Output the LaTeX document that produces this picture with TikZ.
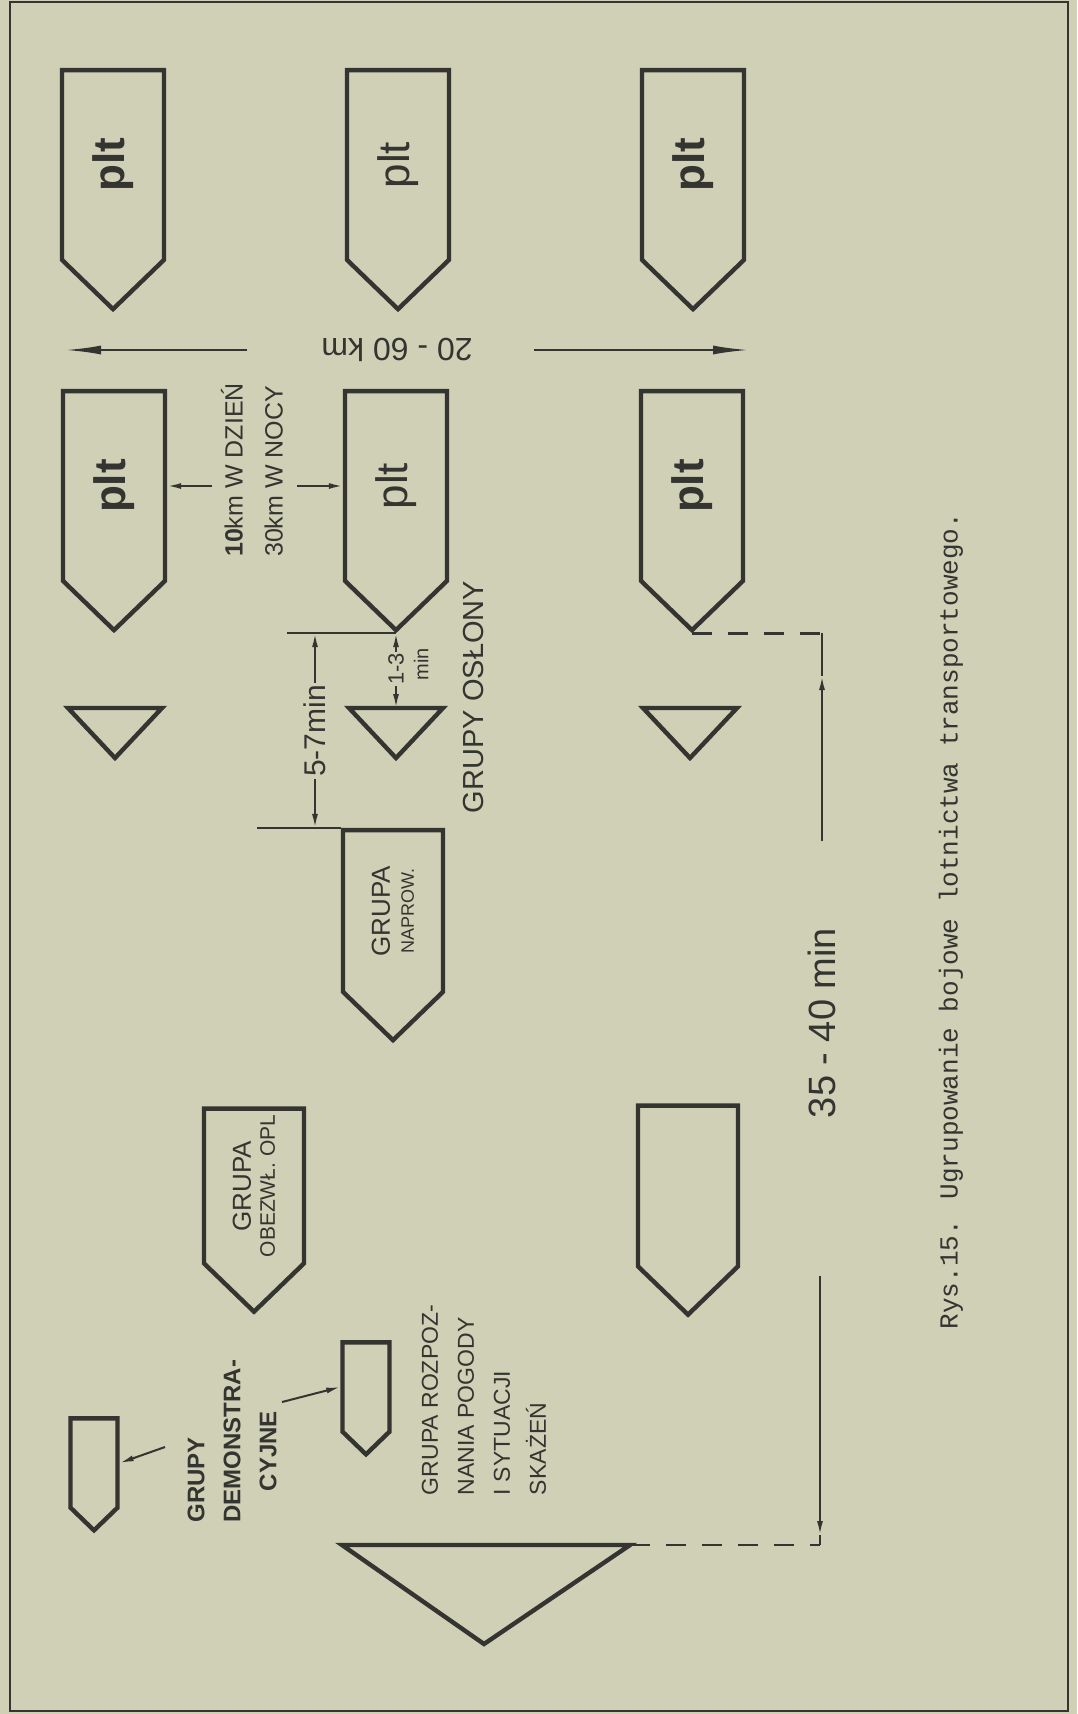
\documentclass[tikz,border=0pt]{standalone}
\usepackage{fontspec}
\setmainfont{Liberation Sans}
\newfontfamily\typewr{Liberation Mono}
\usepackage{tikz}
\usetikzlibrary{arrows.meta,positioning,shapes.symbols}
\definecolor{paper}{RGB}{207,208,182}
\definecolor{ink}{RGB}{52,52,48}

\begin{document}
\begin{tikzpicture}[x=0.5pt,y=-0.5pt,
    every node/.style={text=ink,inner sep=1pt},
    plane/.style={signal,signal to=west,signal pointer angle=92,draw=ink,line width=2.2pt,
      rotate=90,minimum width=119.5pt,minimum height=51pt,inner sep=0pt,
      font=\fontsize{22}{24}\selectfont},
    grupa/.style={plane,minimum width=105pt,minimum height=50pt,
      font=\fontsize{13}{14}\selectfont,align=center},
    demo/.style={plane,minimum width=56pt,minimum height=23.5pt},
    tri/.style={draw=ink,line width=2.2pt},
    dimline/.style={draw=ink,line width=1pt},
    dimtip/.style={dimline,-{Latex[length=7pt,width=3pt]}},
    both/.style={dimline,{Latex[length=7pt,width=3pt]}-{Latex[length=7pt,width=3pt]}},
    kmtip/.style={dimline,line width=1.2pt,-{Latex[length=18pt,width=4.5pt]}},
    dashline/.style={dimline,line width=1.4pt,dash pattern=on 10pt off 8pt},
    label/.style={rotate=90,font=\fontsize{14.5}{16}\selectfont}]

  \fill[paper] (0,0) rectangle (1077,1714);
  \useasboundingbox (0,0) rectangle (1077,1714);
  \draw[ink,line width=1.4pt] (10,2) rectangle (1068,1711);

  % samoloty
  \node[plane]  (p11) at (113,165) {\bfseries plt};
  \node[plane]  (p12) at (398,165) {plt};
  \node[plane]  (p13) at (693,165) {\bfseries plt};
  \node[plane]  (p21) at (114,486) {\bfseries plt};
  \node[plane]  (p22) at (396,486) {plt};
  \node[plane]  (p23) at (692,486) {\bfseries plt};

  \node[grupa]  (naprow) at (393,911)
        {GRUPA\\[-2pt]{\fontsize{9}{10}\selectfont NAPROW.}};
  \node[grupa,minimum width=101.5pt]  (obezwl) at (254,1186)
        {GRUPA\\[-2pt]{\fontsize{10.5}{11}\selectfont OBEZWŁ. OPL}};
  \node[grupa,minimum width=104.5pt]  (empty)  at (688,1186) {};
  \node[demo]   (demo1)  at (94,1463)  {};
  \node[demo]   (demo2)  at (366,1387) {};

  % grupy oslony
  \coordinate (tri1) at (115,708);
  \coordinate (tri2) at (396,708);
  \coordinate (tri3) at (690,708);
  \foreach \t in {tri1,tri2,tri3}
    \draw[tri] (\t) ++(-47,0) -- ++(94,0) -- ++(-47,50) -- cycle;
  \coordinate (bigtri) at (486,1545);
  \coordinate (bigR)   at (630,1545);
  \draw[tri] (bigtri) ++(-144,0) -- (bigR) -- ++(-146,99) -- cycle;

  % odleglosci
  \node[rotate=180,font=\fontsize{16}{18}\selectfont] (km) at (397,350) {20 - 60 km};
  \coordinate (kmL0) at (247,350);
  \coordinate (kmL)  at (65,350);
  \coordinate (kmR0) at (534,350);
  \coordinate (kmR)  at (749,350);
  \draw[kmtip] (kmL0) -- (kmL);
  \draw[kmtip] (kmR0) -- (kmR);

  \node[label,align=left,font=\fontsize{12.5}{20}\selectfont] (dist) at (252,470)
        {\textbf{10}km W DZIEŃ\\30km W NOCY};
  \coordinate (dayL) at (212,486);
  \coordinate (dayR) at (297,486);
  \draw[dimtip] (dayL) -- (p21.south);
  \draw[dimtip] (dayR) -- (p22.north);

  \coordinate (ext57a) at (287,635);
  \coordinate (ext57b) at (257,833);
  \coordinate (d57) at (315,700);
  \draw[dimline] (ext57a |- p22.west) -- (p22.west);
  \draw[dimline] (ext57b |- naprow.north east) -- (naprow.north east);
  \draw[both] (d57 |- p22.west) -- (d57 |- naprow.north east);
  \node[label,fill=paper,font=\fontsize{15}{16}\selectfont] (t57) at (315,731) {5-7min};

  \draw[both] (p22.west) -- (tri2);
  \node[label,fill=paper,inner sep=0.5pt,font=\fontsize{11}{12}\selectfont] (t13) at (396,669) {1-3};
  \node[label,font=\fontsize{10}{11}\selectfont] (t13min) at (421,664) {min};

  \node[label] (oslony) at (474,697) {GRUPY OSŁONY};

  \coordinate (d35) at (822,700);
  \coordinate (d35tip) at (822,676);
  \coordinate (d35end) at (822,841);
  \coordinate (d35beg) at (820,1276);
  \coordinate (d35btip) at (820,1535);
  \draw[dashline] (p23.west) -- (d35 |- p23.west);
  \draw[dimline] (d35 |- p23.west) -- (d35tip);
  \draw[dimtip] (d35end) -- (d35tip);
  \draw[dimtip] (d35beg) -- (d35btip);
  \draw[dimline] (d35btip) -- (d35btip |- bigR);
  \draw[dashline] (bigR) -- (d35btip |- bigR);
  \node[label,font=\fontsize{19}{20}\selectfont] (t3540) at (822,1023) {35 - 40 min};

  % opisy grup
  \node[label,align=left,font=\bfseries\fontsize{12}{18}\selectfont] (demotxt) at (232,1441)
        {GRUPY\\DEMONSTRA-\\\hspace*{1.3em}CYJNE};
  \coordinate (demoA) at (165,1447);
  \coordinate (demoB) at (282,1402);
  \draw[dimtip] (demoA) -- (demo1.south);
  \draw[dimtip] (demoB) -- (demo2.north);

  \node[label,align=left,font=\fontsize{11.5}{18}\selectfont] (rozp) at (484,1400)
        {GRUPA ROZPOZ-\\NANIA POGODY\\I SYTUACJI\\SKAŻEŃ};

  \node[rotate=90,font=\typewr\fontsize{13}{14}\selectfont] (caption) at (951,921)
        {Rys.15. Ugrupowanie bojowe lotnictwa transportowego.};
\end{tikzpicture}
\end{document}
